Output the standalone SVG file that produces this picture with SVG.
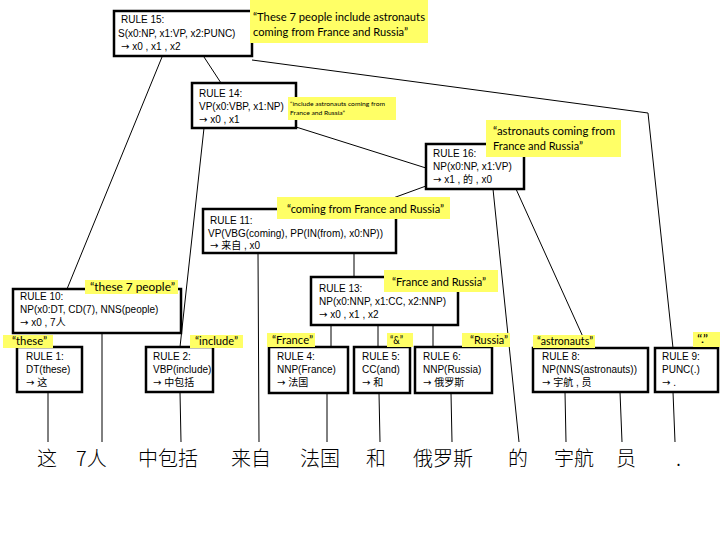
<svg xmlns="http://www.w3.org/2000/svg" width="720" height="540" viewBox="0 0 720 540">
<style>
.box{fill:#fff;stroke:#000;stroke-width:2.5}
.lbl{fill:#ffff66}
.t{font-family:"Liberation Sans",Arial,"Noto Sans CJK SC",sans-serif;font-size:10px;fill:#000}
.ar{font-family:"DejaVu Sans",sans-serif;font-size:10px}
.q{font-family:Lato,"Liberation Sans",sans-serif;font-size:12px;fill:#000}
.qs{font-family:Lato,"Liberation Sans",sans-serif;font-size:6px;fill:#000}
.w{font-family:"Noto Sans CJK SC","Noto Sans CJK JP",sans-serif;font-size:20px;font-weight:300;fill:#000}
#connectors line,#connectors polyline{stroke:#000;stroke-width:1;fill:none}
</style>
<rect width="720" height="540" fill="#fff"/>
<g id="connectors">
<line x1="162" y1="57" x2="67" y2="289"/>
<line x1="204" y1="57" x2="221" y2="83"/>
<polyline points="252,60 648,113 673,348"/>
<line x1="296" y1="127" x2="426" y2="168"/>
<line x1="204" y1="128" x2="180" y2="347"/>
<line x1="426" y1="186" x2="363" y2="209"/>
<line x1="493" y1="189" x2="519" y2="442"/>
<line x1="516" y1="189" x2="588" y2="348"/>
<line x1="258" y1="253" x2="259" y2="442"/>
<line x1="354" y1="253" x2="354" y2="277"/>
<line x1="331" y1="325" x2="331" y2="347"/>
<line x1="378" y1="325" x2="378" y2="347"/>
<line x1="433" y1="325" x2="433" y2="347"/>
<line x1="102" y1="333" x2="102" y2="442"/>
<line x1="48" y1="392" x2="48" y2="442"/>
<line x1="180" y1="392" x2="181" y2="442"/>
<line x1="327" y1="393" x2="327" y2="442"/>
<line x1="379" y1="393" x2="380" y2="442"/>
<line x1="451" y1="393" x2="452" y2="442"/>
<line x1="565" y1="392" x2="566" y2="442"/>
<line x1="620" y1="392" x2="622" y2="442"/>
<line x1="673" y1="392" x2="675" y2="442"/>
</g>
<g id="rule15">
<rect class="box" x="114" y="11" width="138" height="45"/>
<text class="t" x="121" y="23">RULE 15:</text>
<text class="t" x="118" y="37">S(x0:NP, x1:VP, x2:PUNC)</text>
<text class="t" x="121" y="50"><tspan class="ar">→</tspan> x0 , x1 , x2</text>
<rect class="lbl" x="250" y="0" width="178" height="43"/>
<text class="q" x="253" y="21" textLength="172" lengthAdjust="spacingAndGlyphs">“These 7 people include astronauts</text>
<text class="q" x="253" y="36" textLength="155" lengthAdjust="spacingAndGlyphs">coming from France and Russia”</text>
</g>
<g id="rule14">
<rect class="box" x="192" y="83" width="104" height="45"/>
<text class="t" x="199" y="97">RULE 14:</text>
<text class="t" x="199" y="110">VP(x0:VBP, x1:NP)</text>
<text class="t" x="199" y="123"><tspan class="ar">→</tspan> x0 , x1</text>
<rect class="lbl" x="288" y="97" width="108" height="23"/>
<text class="qs" x="290" y="106" textLength="95" lengthAdjust="spacingAndGlyphs">“include astronauts coming from</text>
<text class="qs" x="290" y="115" textLength="55" lengthAdjust="spacingAndGlyphs">France and Russia”</text>
</g>
<g id="rule16">
<rect class="box" x="426" y="144" width="98" height="45"/>
<text class="t" x="433" y="157">RULE 16:</text>
<text class="t" x="433" y="170">NP(x0:NP, x1:VP)</text>
<text class="t" x="433" y="183"><tspan class="ar">→</tspan> x1 , 的 , x0</text>
<rect class="lbl" x="486" y="120" width="135" height="37"/>
<text class="q" x="493" y="135" textLength="122" lengthAdjust="spacingAndGlyphs">“astronauts coming from</text>
<text class="q" x="493" y="150" textLength="90" lengthAdjust="spacingAndGlyphs">France and Russia”</text>
</g>
<g id="rule11">
<rect class="box" x="203" y="209" width="193" height="44"/>
<text class="t" x="210" y="224">RULE 11:</text>
<text class="t" x="208" y="237">VP(VBG(coming), PP(IN(from), x0:NP))</text>
<text class="t" x="210" y="249"><tspan class="ar">→</tspan> 来自 , x0</text>
<rect class="lbl" x="277" y="197" width="173" height="22"/>
<text class="q" x="287" y="213" textLength="157" lengthAdjust="spacingAndGlyphs">“coming from France and Russia”</text>
</g>
<g id="rule13">
<rect class="box" x="311" y="277" width="147" height="48"/>
<text class="t" x="319" y="292">RULE 13:</text>
<text class="t" x="319" y="305">NP(x0:NNP, x1:CC, x2:NNP)</text>
<text class="t" x="319" y="318"><tspan class="ar">→</tspan> x0 , x1 , x2</text>
<rect class="lbl" x="384" y="270" width="114" height="22"/>
<text class="q" x="392" y="286" textLength="94" lengthAdjust="spacingAndGlyphs">“France and Russia”</text>
</g>
<g id="rule10">
<rect class="box" x="13" y="289" width="168" height="44"/>
<text class="t" x="20" y="300">RULE 10:</text>
<text class="t" x="20" y="313">NP(x0:DT, CD(7), NNS(people)</text>
<text class="t" x="20" y="326"><tspan class="ar">→</tspan> x0 , 7人</text>
<rect class="lbl" x="85" y="280" width="93" height="14"/>
<text class="q" x="90" y="291" textLength="85" lengthAdjust="spacingAndGlyphs">“these 7 people”</text>
</g>
<g id="rule1">
<rect class="box" x="17" y="347" width="65" height="45"/>
<text class="t" x="26" y="360">RULE 1:</text>
<text class="t" x="26" y="373">DT(these)</text>
<text class="t" x="26" y="386"><tspan class="ar">→</tspan> 这</text>
<rect class="lbl" x="3" y="335" width="50" height="13"/>
<text class="q" x="12" y="345" textLength="35" lengthAdjust="spacingAndGlyphs">“these”</text>
</g>
<g id="rule2">
<rect class="box" x="146" y="347" width="67" height="45"/>
<text class="t" x="153" y="360">RULE 2:</text>
<text class="t" x="153" y="373">VBP(include)</text>
<text class="t" x="153" y="386"><tspan class="ar">→</tspan> 中包括</text>
<rect class="lbl" x="190" y="335" width="53" height="13"/>
<text class="q" x="195" y="345" textLength="43" lengthAdjust="spacingAndGlyphs">“include”</text>
</g>
<g id="rule4">
<rect class="box" x="269" y="347" width="79" height="46"/>
<text class="t" x="277" y="360">RULE 4:</text>
<text class="t" x="277" y="373">NNP(France)</text>
<text class="t" x="277" y="386"><tspan class="ar">→</tspan> 法国</text>
<rect class="lbl" x="267" y="333" width="48" height="14"/>
<text class="q" x="272" y="344" textLength="41" lengthAdjust="spacingAndGlyphs">“France”</text>
</g>
<g id="rule5">
<rect class="box" x="354" y="347" width="56" height="46"/>
<text class="t" x="362" y="360">RULE 5:</text>
<text class="t" x="362" y="373">CC(and)</text>
<text class="t" x="362" y="386"><tspan class="ar">→</tspan> 和</text>
<rect class="lbl" x="387" y="333" width="26" height="14"/>
<text class="q" x="390" y="344" textLength="13" lengthAdjust="spacingAndGlyphs">“&amp;”</text>
</g>
<g id="rule6">
<rect class="box" x="415" y="347" width="77" height="46"/>
<text class="t" x="423" y="360">RULE 6:</text>
<text class="t" x="423" y="373">NNP(Russia)</text>
<text class="t" x="423" y="386"><tspan class="ar">→</tspan> 俄罗斯</text>
<rect class="lbl" x="462" y="333" width="48" height="14"/>
<text class="q" x="470" y="344" textLength="38" lengthAdjust="spacingAndGlyphs">“Russia”</text>
</g>
<g id="rule8">
<rect class="box" x="533" y="348" width="115" height="44"/>
<text class="t" x="542" y="360">RULE 8:</text>
<text class="t" x="542" y="373">NP(NNS(astronauts))</text>
<text class="t" x="542" y="386"><tspan class="ar">→</tspan> 宇航 , 员</text>
<rect class="lbl" x="533" y="335" width="62" height="13"/>
<text class="q" x="537" y="345" textLength="56" lengthAdjust="spacingAndGlyphs">“astronauts”</text>
</g>
<g id="rule9">
<rect class="box" x="655" y="348" width="63" height="44"/>
<text class="t" x="662" y="360">RULE 9:</text>
<text class="t" x="662" y="373">PUNC(.)</text>
<text class="t" x="662" y="386"><tspan class="ar">→</tspan> .</text>
<rect class="lbl" x="693" y="332" width="27" height="15"/>
<text class="q" x="697" y="343" textLength="11" lengthAdjust="spacingAndGlyphs">“.”</text>
</g>
<g id="words">
<text class="w" x="37" y="466">这</text>
<text class="w" x="76" y="466">7人</text>
<text class="w" x="138" y="466">中包括</text>
<text class="w" x="231" y="466">来自</text>
<text class="w" x="300" y="466">法国</text>
<text class="w" x="366" y="466">和</text>
<text class="w" x="413" y="466">俄罗斯</text>
<text class="w" x="508" y="466">的</text>
<text class="w" x="554" y="466">宇航</text>
<text class="w" x="616" y="466">员</text>
<text class="w" x="676" y="466">.</text>
</g>
</svg>
